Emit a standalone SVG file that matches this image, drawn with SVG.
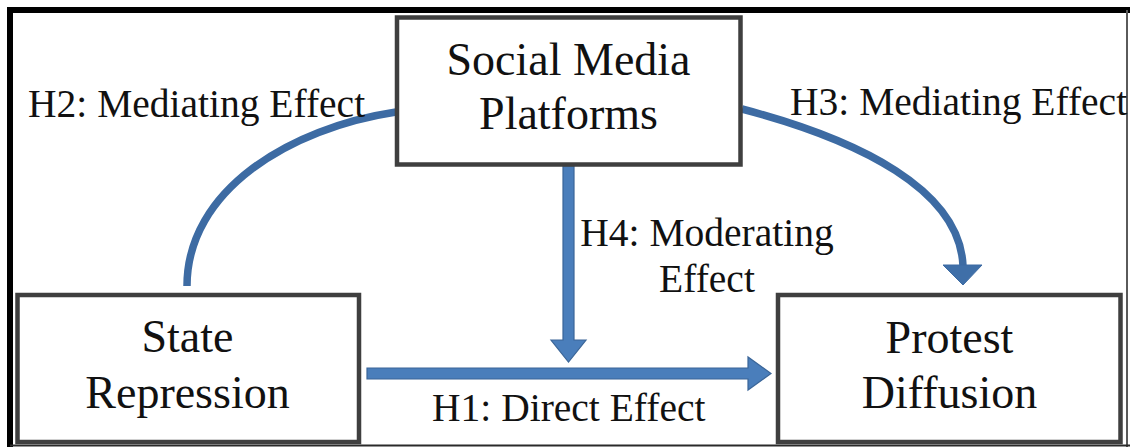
<svg xmlns="http://www.w3.org/2000/svg" width="1130" height="447" viewBox="0 0 1130 447">
  <style>
    .box { fill: #ffffff; stroke: #3f3f3f; stroke-width: 4.5; }
    .node-text { font-family: "Liberation Serif", "Times New Roman", serif; font-size: 46px; fill: #111111; text-anchor: middle; }
    .label { font-family: "Liberation Serif", "Times New Roman", serif; font-size: 39.5px; fill: #111111; }
    .curve { fill: none; stroke: #3d6ba3; stroke-width: 7.5; }
    .head { fill: #3f6fa8; stroke: #3d6ba3; stroke-width: 1; stroke-linejoin: miter; }
    .block { fill: #4a7ebb; stroke: #3a6598; stroke-width: 1.2; stroke-linejoin: miter; }
  </style>

  <rect x="0" y="0" width="1130" height="447" fill="#ffffff"/>

  <!-- outer frame: heavy top/left, light right/bottom -->
  <g id="frame">
    <path d="M10,447 L10,10 L1130,10" fill="none" stroke="#000000" stroke-width="6"/>
    <line x1="1127" y1="10" x2="1127" y2="447" stroke="#5a5a5a" stroke-width="2"/>
    <line x1="10" y1="445.5" x2="1130" y2="445.5" stroke="#2a2a2a" stroke-width="2"/>
  </g>

  <!-- connectors -->
  <g id="connectors">
    <!-- H2: State Repression to Social Media Platforms -->
    <path class="curve" d="M187,286 C187,190 290,128 396,112"/>
    <!-- H3: Social Media Platforms to Protest Diffusion -->
    <path class="curve" d="M742,109 C860,140 960,190 963,266"/>
    <polygon class="head" points="943,265 982,265 963,285"/>
    <!-- H4: moderating arrow -->
    <polygon class="block" points="563,166 574,166 574,340 586,340 568.5,362 551,340 563,340"/>
    <!-- H1: direct effect arrow -->
    <polygon class="block" points="367,368 748,368 748,357 771,373.5 748,390 748,379 367,379"/>
  </g>

  <g id="node-social-media">
    <rect class="box" x="397" y="17.5" width="343.5" height="147"/>
    <text class="node-text" x="568.5" y="75">Social Media</text>
    <text class="node-text" x="568.5" y="129">Platforms</text>
  </g>

  <g id="node-state-repression">
    <rect class="box" x="17.5" y="295" width="341.5" height="147"/>
    <text class="node-text" x="187.5" y="352">State</text>
    <text class="node-text" x="187.5" y="408">Repression</text>
  </g>

  <g id="node-protest-diffusion">
    <rect class="box" x="778" y="295" width="342.5" height="147"/>
    <text class="node-text" x="949.5" y="353">Protest</text>
    <text class="node-text" x="949.5" y="408">Diffusion</text>
  </g>

  <g id="labels">
    <text class="label" x="28" y="117">H2: Mediating Effect</text>
    <text class="label" x="790" y="115">H3: Mediating Effect</text>
    <text class="label" x="707" y="246" text-anchor="middle">H4: Moderating</text>
    <text class="label" x="707" y="292" text-anchor="middle">Effect</text>
    <text class="label" x="432" y="421">H1: Direct Effect</text>
  </g>
</svg>
